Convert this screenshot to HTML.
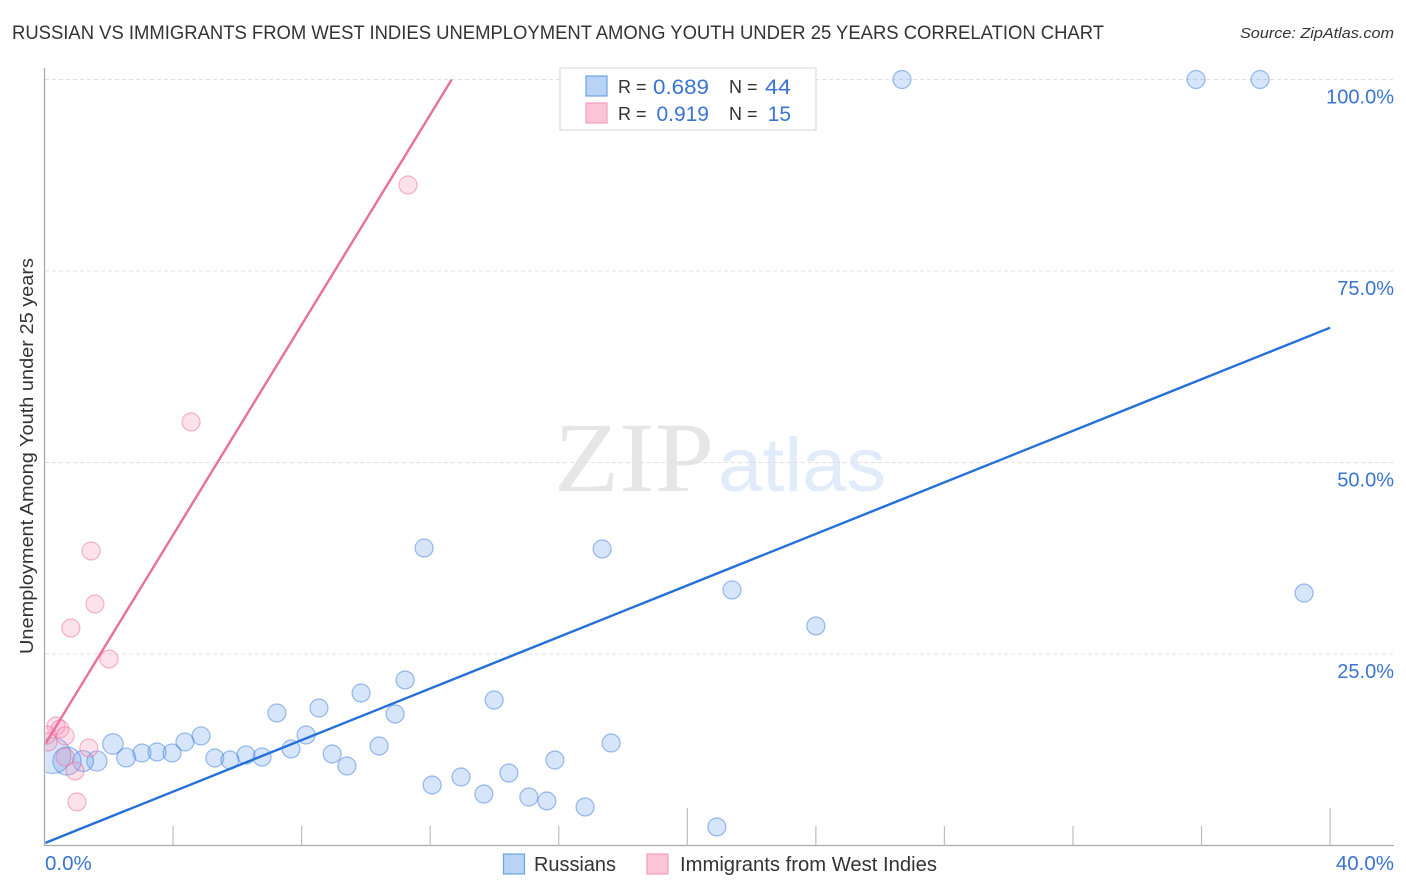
<!DOCTYPE html>
<html lang="en">
<head>
<meta charset="utf-8">
<title>Russian vs Immigrants from West Indies Unemployment Among Youth Under 25 Years Correlation Chart</title>
<style>
html,body{margin:0;padding:0;background:#fff;width:1406px;height:892px;overflow:hidden}
svg{display:block;font-family:"Liberation Sans",sans-serif}
</style>
</head>
<body>
<svg id="chart" xmlns="http://www.w3.org/2000/svg" width="1406" height="892" viewBox="0 0 1406 892">
  <defs>
    <clipPath id="plot-clip"><rect x="45.5" y="60" width="1350" height="785"/></clipPath>
  </defs>
  <rect x="0" y="0" width="1406" height="892" fill="#ffffff"/>
  <text x="12" y="39" font-size="19.5" fill="#333333" textLength="1092" lengthAdjust="spacingAndGlyphs">RUSSIAN VS IMMIGRANTS FROM WEST INDIES UNEMPLOYMENT AMONG YOUTH UNDER 25 YEARS CORRELATION CHART</text>
  <text x="1394" y="38" font-size="15" font-style="italic" fill="#333333" text-anchor="end" textLength="154" lengthAdjust="spacingAndGlyphs">Source: ZipAtlas.com</text>

  <g id="watermark">
    <text x="554" y="491" font-family="'Liberation Serif',serif" font-size="100" fill="#e6e6e6" textLength="160" lengthAdjust="spacingAndGlyphs">ZIP</text>
    <text x="718" y="491" font-size="76" fill="#e1ebf9" textLength="168" lengthAdjust="spacingAndGlyphs">atlas</text>
  </g>

  <g id="grid"></g>
  <g id="axes"></g>
  <g id="y-labels"></g>
  <g id="x-labels"></g>

  <text transform="translate(33,456) rotate(-90)" font-size="18.5" fill="#333333" text-anchor="middle" textLength="396" lengthAdjust="spacingAndGlyphs">Unemployment Among Youth under 25 years</text>

  <g id="points" clip-path="url(#plot-clip)"></g>
  <g id="trend-lines" clip-path="url(#plot-clip)"></g>

  <g id="stats-legend">
    <rect x="560" y="68" width="256" height="62" fill="#ffffff" stroke="#dddddd" stroke-width="1.2"/>
    <rect x="586" y="76" width="21" height="20" fill="#b9d3f6" stroke="#6fa3e3" stroke-width="1.2"/>
    <rect x="586" y="103" width="21" height="20" fill="#fcc5d7" stroke="#f29fba" stroke-width="1.2"/>
    <text x="618" y="93" font-size="18" fill="#333333">R =</text>
    <text x="653" y="94" font-size="21" fill="#3a74d2" textLength="56" lengthAdjust="spacingAndGlyphs">0.689</text>
    <text x="729" y="93" font-size="18" fill="#333333">N =</text>
    <text x="765" y="94" font-size="21" fill="#3a74d2" textLength="26" lengthAdjust="spacingAndGlyphs">44</text>
    <text x="618" y="120" font-size="18" fill="#333333">R =</text>
    <text x="709" y="121" font-size="21" fill="#3a74d2" text-anchor="end">0.919</text>
    <text x="729" y="120" font-size="18" fill="#333333">N =</text>
    <text x="791" y="121" font-size="21" fill="#3a74d2" text-anchor="end">15</text>
  </g>

  <g id="series-legend">
    <rect x="503.5" y="854" width="21" height="20" fill="#b9d3f6" stroke="#6fa3e3" stroke-width="1.2"/>
    <text x="534" y="871" font-size="20" fill="#333333" textLength="82" lengthAdjust="spacingAndGlyphs">Russians</text>
    <rect x="647" y="854" width="21" height="20" fill="#fcc5d7" stroke="#f29fba" stroke-width="1.2"/>
    <text x="680" y="871" font-size="20" fill="#333333" textLength="257" lengthAdjust="spacingAndGlyphs">Immigrants from West Indies</text>
  </g>
</svg>
<script>
var xTickValues = [4, 8, 12, 16, 20, 24, 28, 32, 36, 40];
var xMajorTicks = [20, 40];
var xTickLabels = ['0.0%', '40.0%'];
var yGridValues = [25, 50, 75, 100];
var yTickLabels = ['25.0%', '50.0%', '75.0%', '100.0%'];

var russiansX = [26.68, 35.83, 37.82, 39.19, 11.81, 17.35, 21.39, 24.0, 11.22, 9.85, 13.99, 8.54, 7.23, 10.91, 4.87, 8.14, 4.37, 2.13, 10.41, 17.63, 7.67, 3.5, 3.03, 3.97, 8.95, 6.27, 2.54, 5.3, 6.77, 5.77, 1.63, 15.88, 1.2, 0.7, 0.26, 9.41, 14.45, 12.96, 12.06, 13.67, 15.07, 15.63, 16.82, 20.92];
var russiansY = [100, 100, 100, 32.96, 38.84, 38.71, 33.36, 28.66, 21.61, 19.91, 18.99, 17.95, 17.3, 17.17, 14.3, 14.43, 13.51, 13.25, 12.99, 13.38, 12.6, 12.21, 12.08, 12.08, 11.95, 11.81, 11.49, 11.42, 11.55, 11.16, 11.03, 11.16, 11.03, 11.03, 11.75, 10.38, 9.46, 8.94, 7.9, 6.72, 6.33, 5.81, 5.03, 2.42];
var russiansWeight = [1, 1, 1, 1, 1, 1, 1, 1, 1, 1, 1, 1, 1, 1, 1, 1, 1, 1.3, 1, 1, 1, 1, 1, 1, 1, 1, 1.1, 1, 1, 1, 1.25, 1, 1.35, 2.45, 4, 1, 1, 1, 1, 1, 1, 1, 1, 1];

var westIndiesX = [11.31, 4.56, 1.45, 1.57, 0.82, 2.01, 0.36, 0.48, 0.64, 0.08, 0.11, 1.38, 0.95, 1.01, 0.64];
var westIndiesY = [86.23, 55.29, 38.45, 31.53, 28.39, 24.35, 15.6, 15.21, 14.3, 14.43, 13.51, 12.73, 9.73, 5.68, 11.55];
var westIndiesWeight = [1, 1, 1, 1, 1, 1, 1, 1, 1, 1, 1, 1, 1, 1, 1];

var russiansTrendX = [0, 40];
var russiansTrendY = [0.3, 67.6];
var westIndiesTrendX = [0, 12.67];
var westIndiesTrendY = [13.1, 100];

var SVG_NS = 'http://www.w3.org/2000/svg';
function xScale(v) { return 44.5 + v * 32.14; }
function yScale(v) { return 845.5 - v * 7.66; }
function radius(w) { return 9 * Math.sqrt(w); }
function make(tag, attrs, parent) {
  var el = document.createElementNS(SVG_NS, tag);
  for (var k in attrs) { el.setAttribute(k, attrs[k]); }
  parent.appendChild(el);
  return el;
}

var gridG = document.getElementById('grid');
yGridValues.forEach(function (v) {
  var line = make('line', { x1: 45, x2: 1394, y1: yScale(v), y2: yScale(v), stroke: '#e0e0e0', 'stroke-width': 1, 'stroke-dasharray': '4 3' }, gridG);
  
  
});

var axesG = document.getElementById('axes');
var yAxis = make('line', { x1: 44.5, x2: 44.5, y1: 68, y2: 846, stroke: '#ababab', 'stroke-width': 1.3 }, axesG);


var xAxis = make('line', { x1: 44, x2: 1394, y1: 845.5, y2: 845.5, stroke: '#ababab', 'stroke-width': 1.3 }, axesG);


xTickValues.forEach(function (v) {
  var top = xMajorTicks.indexOf(v) >= 0 ? 808 : 826;
  var tick = make('line', { x1: xScale(v), x2: xScale(v), y1: top, y2: 845.5, stroke: '#bdbdbd', 'stroke-width': 1.2 }, axesG);
  
  
});

var yLabG = document.getElementById('y-labels');
yGridValues.forEach(function (v, i) {
  var t = make('text', { x: 1394, y: yScale(v) + 24, 'font-size': 20, fill: '#3a74d2', 'text-anchor': 'end' }, yLabG);
  t.textContent = yTickLabels[i];
  
  
});

var xLabG = document.getElementById('x-labels');
var xLeft = make('text', { x: 45, y: 870, 'font-size': 20.5, fill: '#3a74d2' }, xLabG);
xLeft.textContent = xTickLabels[0];


var xRight = make('text', { x: 1394, y: 870, 'font-size': 20.5, fill: '#3a74d2', 'text-anchor': 'end' }, xLabG);
xRight.textContent = xTickLabels[1];



var pointsG = document.getElementById('points');
russiansX.forEach(function (v, i) {
  var c = make('circle', { cx: xScale(v), cy: yScale(russiansY[i]), r: radius(russiansWeight[i]), fill: 'rgba(106,160,232,0.28)', stroke: 'rgba(60,124,222,0.5)', 'stroke-width': 1.2 }, pointsG);
  
  
});
westIndiesX.forEach(function (v, i) {
  var c = make('circle', { cx: xScale(v), cy: yScale(westIndiesY[i]), r: radius(westIndiesWeight[i]), fill: 'rgba(248,150,185,0.28)', stroke: 'rgba(236,110,155,0.5)', 'stroke-width': 1.2 }, pointsG);
  
  
});

var linesG = document.getElementById('trend-lines');
var blueLine = make('line', { x1: xScale(russiansTrendX[0]), y1: yScale(russiansTrendY[0]), x2: xScale(russiansTrendX[1]), y2: yScale(russiansTrendY[1]), stroke: '#2470d8', 'stroke-width': 2.4 }, linesG);


var pinkLine = make('line', { x1: xScale(westIndiesTrendX[0]), y1: yScale(westIndiesTrendY[0]), x2: xScale(westIndiesTrendX[1]), y2: yScale(westIndiesTrendY[1]), stroke: '#e9709c', 'stroke-width': 2.4 }, linesG);


</script>
</body>
</html>
